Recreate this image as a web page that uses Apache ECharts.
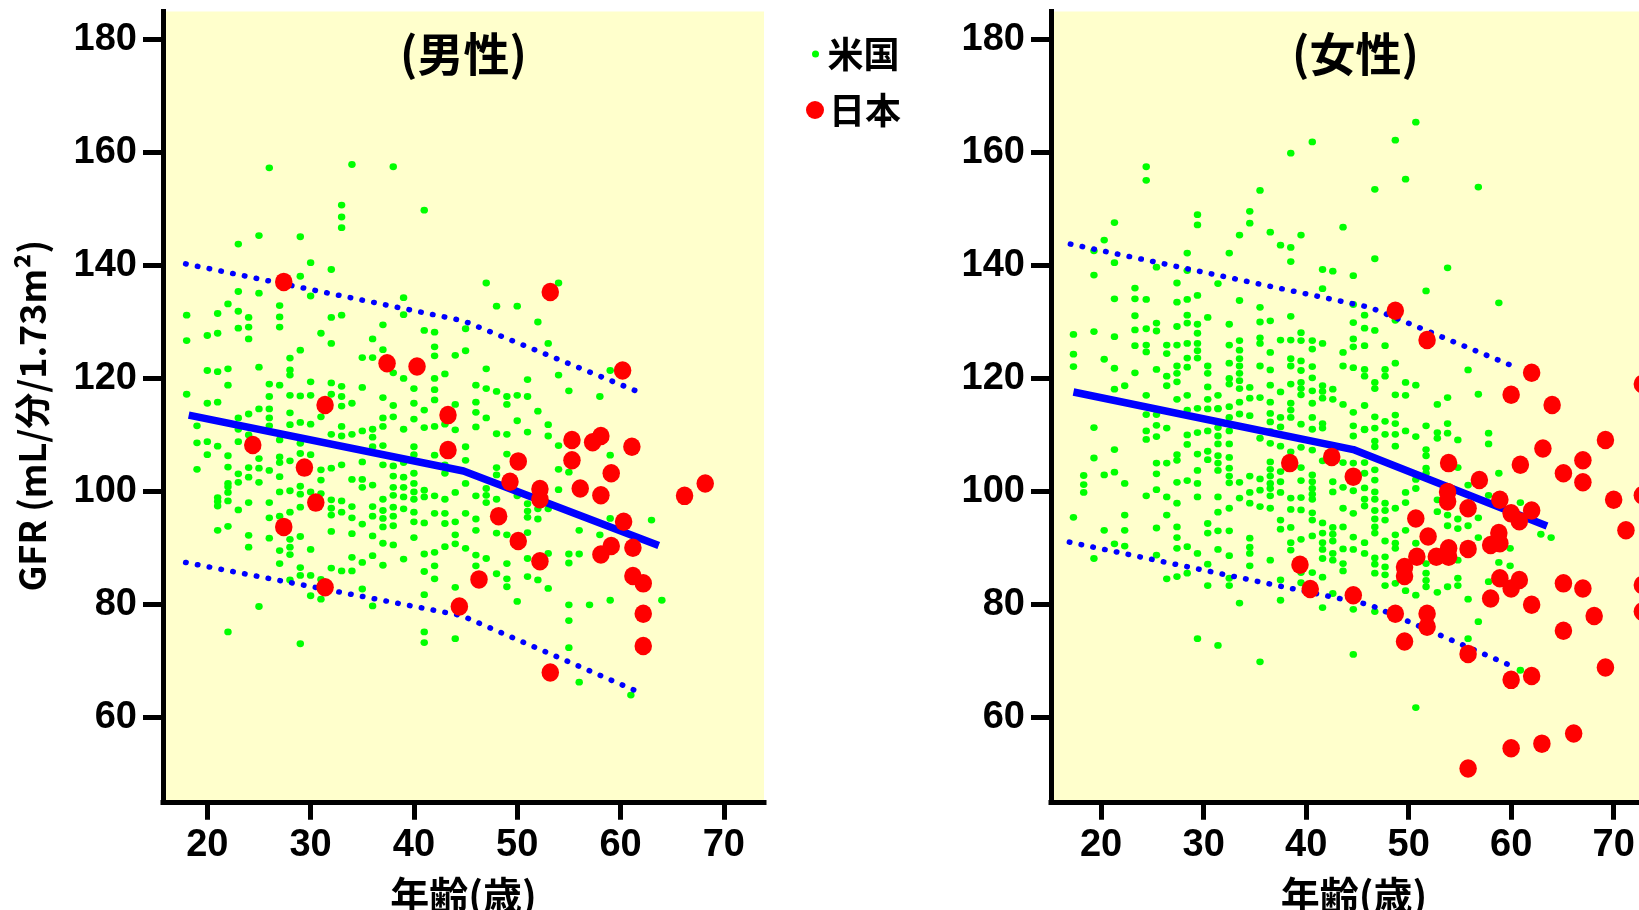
<!DOCTYPE html>
<html>
<head>
<meta charset="utf-8">
<script src="https://cdn.jsdelivr.net/npm/echarts@6.0.0/dist/echarts.min.js"></script>
<style>
html,body{margin:0;padding:0;background:#fff;}
#chart{width:1639px;height:910px;}
</style>
</head>
<body>
<div id="chart"></div>
<script>
// ---- tick labels ----
const xTicks = [20, 30, 40, 50, 60, 70];
const yTicks = [60, 80, 100, 120, 140, 160, 180];

// ---- US (米国) males: [age, [GFR values]] ----
const usMale = [
  [18, [131.2, 126.7, 117.2]],
  [19, [111.6, 108.6, 103.9]],
  [20, [127.6, 121.4, 115.6, 108.8, 106.5]],
  [21, [131.5, 128.0, 121.2, 115.8, 108.0, 98.9, 98.2, 97.4, 93.1]],
  [22, [133.2, 121.7, 118.8, 106.3, 104.3, 101.4, 100.8, 99.8, 98.3, 93.8, 75.1]],
  [23, [143.8, 135.4, 131.9, 128.9, 113.0, 111.0, 108.8, 103.1, 101.6, 96.7]],
  [24, [130.8, 129.1, 127.0, 113.7, 110.0, 104.2, 102.5, 98.0, 92.2, 90.1]],
  [25, [145.3, 135.1, 122.0, 114.6, 105.8, 104.1, 101.6, 79.6]],
  [26, [157.3, 119.0, 116.8, 114.6, 113.0, 111.6, 103.7, 98.0, 95.3, 91.7]],
  [27, [132.9, 130.9, 129.1, 118.8, 109.1, 106.1, 105.1, 102.6, 99.9, 95.6, 89.5, 87.2]],
  [28, [123.6, 121.5, 120.6, 117.0, 113.9, 111.8, 105.4, 100.1, 96.3, 91.5, 90.1, 88.8, 84.3]],
  [29, [145.1, 138.1, 125.0, 116.9, 112.2, 108.5, 106.7, 100.9, 99.5, 97.2, 92.0, 86.5, 85.1, 73.0]],
  [30, [140.5, 134.6, 119.4, 117.0, 111.9, 106.5, 99.9, 89.7, 85.1, 81.5]],
  [31, [128.0, 113.2, 103.8, 102.0, 99.6, 84.4, 80.9]],
  [32, [139.3, 130.8, 126.2, 119.2, 117.2, 110.1, 104.1, 98.5, 97.0, 95.8, 92.9, 86.4]],
  [33, [150.7, 148.6, 146.7, 131.2, 118.6, 116.8, 115.1, 111.5, 109.8, 104.7, 98.3, 96.3, 85.9]],
  [34, [157.9, 115.6, 110.1, 102.1, 97.3, 95.3, 92.5, 88.3, 85.9]],
  [35, [123.7, 118.4, 110.7, 105.2, 102.1, 100.7, 94.2, 87.4, 82.7]],
  [36, [127.0, 123.7, 111.0, 109.6, 107.9, 101.1, 97.3, 95.6, 92.1, 88.6, 79.7]],
  [37, [129.5, 125.1, 116.6, 113.0, 111.5, 108.1, 104.7, 98.6, 96.6, 95.2, 93.7, 90.8, 86.9]],
  [38, [157.5, 121.0, 115.2, 113.2, 104.5, 102.7, 100.7, 99.3, 97.2, 95.6, 93.9, 90.5]],
  [39, [134.3, 131.3, 120.0, 111.0, 105.1, 102.5, 100.7, 99.0, 96.9, 88.0]],
  [40, [118.2, 115.6, 112.8, 107.9, 106.5, 103.2, 101.4, 99.9, 98.6, 96.3, 94.6, 91.8]],
  [41, [149.8, 128.5, 114.4, 111.3, 100.2, 99.0, 94.4, 88.9, 85.8, 81.7, 75.1, 73.2]],
  [42, [128.2, 125.6, 124.0, 120.0, 118.0, 116.2, 111.5, 106.4, 99.2, 96.1, 89.2, 86.8, 84.5]],
  [43, [120.8, 111.9, 104.7, 103.2, 98.6, 96.1, 94.3, 90.2]],
  [44, [124.1, 115.4, 110.9, 99.8, 94.6, 92.3, 90.7, 83.0, 73.9]],
  [45, [128.8, 124.9, 107.9, 105.5, 101.4, 96.1, 89.9]],
  [46, [118.8, 115.8, 114.0, 111.4, 99.2, 95.1, 93.1, 88.7, 86.8]],
  [47, [136.9, 121.7, 118.2, 113.0, 100.5, 99.3, 98.0, 88.1]],
  [48, [132.8, 117.7, 110.2, 104.2, 102.9, 98.6, 92.6, 85.4]],
  [49, [116.8, 115.4, 110.1, 106.6, 92.3, 87.2, 84.5, 83.1]],
  [50, [132.8, 117.0, 112.5, 99.2, 80.5]],
  [51, [119.8, 116.8, 110.5, 97.8, 96.5, 95.4, 92.7, 88.1, 84.9]],
  [52, [130.0, 114.2, 96.9, 95.1, 84.3]],
  [53, [126.2, 111.8, 109.8, 96.9, 89.0, 82.8]],
  [54, [136.9, 120.6, 108.1, 103.9, 100.3]],
  [55, [117.8, 103.4, 88.9, 87.3, 79.9, 77.1, 72.3]],
  [56, [93.1, 88.9, 66.2]],
  [57, [79.9]],
  [58, [116.8, 92.3]],
  [59, [121.4, 106.4, 95.2, 80.7]],
  [61, [63.9]],
  [63, [94.9]],
  [64, [80.7]]
];

// ---- US (米国) females: [age, [GFR values]] ----
const usFemale = [
  [17.3, [127.8, 124.3, 122.1, 95.4]],
  [18.3, [102.8, 101.2, 99.8]],
  [19.3, [142.6, 138.3, 128.3, 111.3, 105.9, 88.1]],
  [20.3, [144.5, 123.4, 102.9, 93.1]],
  [21.3, [147.6, 140.5, 134.1, 127.4, 121.8, 118.1, 107.4, 103.4, 90.7]],
  [22.3, [118.7, 101.4, 95.8, 93.1, 90.3]],
  [23.3, [136.0, 134.1, 131.1, 128.6, 125.8, 121.0]],
  [24.4, [157.5, 155.1, 134.0, 128.8, 125.9, 124.7, 117.0, 113.6, 110.7, 109.2, 99.2]],
  [25.4, [139.7, 129.8, 128.4, 121.6, 113.6, 111.7, 109.7, 105.0, 103.1, 100.3, 93.5, 88.7]],
  [26.4, [125.9, 124.4, 120.4, 118.7, 111.2, 105.0, 99.0, 95.8, 84.5]],
  [27.4, [136.9, 133.5, 129.2, 125.9, 122.2, 120.9, 119.4, 116.3, 106.5, 105.5, 101.6, 97.9, 93.7, 91.8, 89.9, 84.9]],
  [28.4, [142.2, 139.1, 134.0, 131.2, 129.8, 126.2, 123.6, 122.0, 117.0, 114.4, 110.0, 108.3, 101.9, 90.2, 85.5]],
  [29.4, [149.0, 147.2, 134.7, 129.6, 128.0, 126.2, 124.9, 123.6, 114.7, 110.4, 106.6, 103.7, 101.4, 99.0, 89.0, 73.9]],
  [30.4, [130.8, 122.2, 120.9, 118.5, 116.3, 114.6, 110.7, 107.1, 105.6, 94.3, 92.6, 87.1, 83.3]],
  [31.4, [136.8, 117.0, 114.7, 114.6, 111.3, 109.8, 108.4, 106.3, 105.0, 103.7, 99.0, 96.3, 93.0, 89.7, 72.7]],
  [32.5, [142.2, 129.6, 125.9, 122.7, 120.0, 119.0, 115.0, 113.1, 110.7, 108.4, 106.0, 104.1, 102.7, 101.5, 97.0, 93.0, 88.6, 84.6, 83.3]],
  [33.5, [145.4, 133.8, 126.7, 125.0, 123.5, 122.2, 120.9, 119.6, 118.2, 115.8, 113.7, 101.6, 98.8, 80.2]],
  [34.5, [149.6, 147.5, 118.4, 116.5, 113.4, 102.7, 99.8, 97.9, 91.7, 90.1, 89.0, 86.8]],
  [35.5, [153.3, 132.6, 130.0, 127.2, 126.2, 122.2, 116.6, 109.4, 102.2, 100.2, 97.3, 69.8]],
  [36.5, [145.9, 130.2, 124.6, 121.5, 118.8, 115.8, 113.8, 112.3, 110.6, 108.5, 105.2, 103.9, 102.7, 101.4, 100.5, 99.2, 97.0, 87.8]],
  [37.5, [143.6, 126.8, 117.6, 113.1, 111.4, 108.0, 103.5, 101.7, 99.8, 94.9, 93.3, 84.3, 80.7]],
  [38.5, [159.9, 143.2, 140.7, 131.0, 126.8, 123.5, 122.2, 119.0, 115.6, 114.4, 113.1, 107.0, 98.8, 96.8, 93.6, 90.9, 89.6]],
  [39.5, [145.4, 128.1, 126.7, 123.1, 121.4, 119.3, 118.2, 117.1, 111.9, 107.8, 104.2, 101.9, 98.9, 96.7, 91.5, 85.6, 83.8]],
  [40.6, [161.9, 126.7, 125.2, 122.1, 120.1, 117.8, 115.6, 113.1, 111.0, 107.3, 102.9, 101.7, 100.5, 99.5, 98.6, 96.2, 94.9, 92.1, 85.6]],
  [41.6, [139.3, 135.9, 126.2, 118.7, 117.7, 116.5, 112.0, 111.2, 105.4, 94.4, 92.6, 90.9, 89.7, 88.1, 84.8, 79.4]],
  [42.6, [139.0, 118.1, 116.3, 101.7, 99.9, 93.6, 92.4, 91.2, 89.0, 87.8, 81.9]],
  [43.6, [146.8, 124.6, 122.2, 115.4, 105.1, 100.7, 97.0, 93.7, 89.8, 87.2, 85.9]],
  [44.6, [138.2, 133.1, 129.9, 127.0, 125.6, 121.9, 114.0, 111.6, 109.8, 105.0, 100.1, 96.1, 91.9, 89.7, 79.1, 71.1]],
  [45.7, [131.2, 128.9, 125.8, 121.6, 120.4, 115.2, 111.0, 110.9, 105.1, 103.2, 100.6, 98.6, 97.4, 90.9, 89.0]],
  [46.7, [153.5, 141.2, 128.5, 119.3, 118.2, 113.2, 111.2, 108.9, 107.9, 103.8, 102.0, 99.9, 98.6, 96.6, 95.1, 93.7, 92.6, 88.2, 87.1, 85.5, 78.7]],
  [47.7, [125.8, 121.6, 120.4, 112.4, 110.1, 97.9, 96.6, 94.9, 91.2, 88.4, 86.6, 85.2, 83.3]],
  [48.7, [162.2, 130.3, 122.7, 117.1, 113.5, 112.0, 110.1, 108.0, 97.0, 92.3, 90.8, 89.9, 83.7]],
  [49.7, [155.3, 119.3, 117.0, 110.7, 99.8, 98.0, 93.1, 82.4]],
  [50.7, [165.4, 118.8, 109.7, 102.1, 100.5, 90.8, 89.3, 81.6, 61.7]],
  [51.7, [135.5, 111.6, 107.4, 106.3, 104.1, 103.2, 87.2, 85.5, 84.2, 83.1]],
  [52.8, [115.4, 110.4, 109.4, 98.5, 96.4, 82.1]],
  [53.8, [139.6, 116.6, 112.0, 110.3, 95.8, 93.9, 83.1]],
  [54.8, [109.1, 104.2, 95.1, 93.4, 87.8, 84.6, 83.3]],
  [55.8, [121.5, 101.1, 93.9, 80.9, 73.9]],
  [56.8, [153.9, 117.2, 95.3, 91.8, 76.9]],
  [57.8, [110.3, 108.4, 99.3, 84.0]],
  [58.8, [133.4, 103.2, 87.4]],
  [59.9, [89.9, 86.8]],
  [60.9, [98.0, 68.3]],
  [62.9, [92.4]],
  [63.9, [91.8]]
];

// ---- Japan (日本) males: [age, GFR] ----
const jpMale = [
  [27.4,137.1],[37.4,122.7],[40.3,122.1],[31.4,115.3],[43.3,113.5],[24.4,108.2],[29.4,104.2],
  [30.5,98.0],[27.4,93.7],[31.4,83.0],[43.3,107.3],[44.4,79.6],[53.2,135.3],[60.2,121.4],
  [55.3,109.1],[57.3,108.7],[58.1,109.8],[61.1,107.9],[50.1,105.3],[55.3,105.5],[59.1,103.2],
  [49.3,101.7],[52.2,100.4],[52.2,98.6],[56.1,100.5],[58.1,99.3],[66.2,99.2],[68.2,101.4],
  [48.2,95.6],[60.3,94.6],[50.1,91.2],[59.1,90.3],[58.1,88.8],[61.2,90.0],[52.2,87.6],
  [46.3,84.4],[61.2,85.0],[62.2,83.7],[62.2,78.3],[62.2,72.6],[53.2,67.9]
];

// ---- Japan (日本) females: [age, GFR] ----
const jpFemale = [
  [48.7,132.0],[51.8,126.8],[62.0,121.0],[60.0,117.1],[64.0,115.3],[72.8,119.0],
  [38.4,105.0],[42.5,106.1],[39.4,87.0],[40.4,82.7],
  [44.6,102.6],[44.6,81.6],[53.9,105.0],[56.9,102.0],[53.8,99.9],[53.8,98.2],[55.8,97.0],
  [50.7,95.2],[51.9,92.0],[58.9,98.5],[60.0,96.1],[60.8,94.7],[62.0,96.6],[63.1,107.6],
  [60.9,104.7],[65.1,103.2],[67.0,105.5],[67.0,101.6],[69.2,109.1],[70.0,98.5],[71.2,93.1],
  [72.8,99.3],[58.8,92.6],[58.0,90.5],[58.9,90.8],[55.8,89.8],[53.9,89.9],[53.9,88.4],
  [52.7,88.4],[50.8,88.4],[49.6,86.6],[49.6,85.0],[48.7,78.3],[51.8,78.3],[51.8,76.0],
  [49.6,73.4],[55.8,71.2],[58.0,81.0],[58.9,84.6],[60.8,84.3],[60.0,82.8],[62.0,79.9],
  [65.1,83.7],[67.0,82.8],[68.1,77.9],[65.1,75.3],[72.8,83.4],[72.8,78.7],[60.0,66.6],
  [62.0,67.3],[69.2,68.8],[66.1,57.1],[63.0,55.3],[60.0,54.5],[55.8,50.9]
];

// ---- US reference lines: [age, GFR] ----
const upperMale = [[17.9,140.3],[44.8,130.2],[62.3,117.2]];
const fitMale   = [[18.2,113.5],[44.8,103.6],[63.7,90.4]];
const lowerMale = [[17.9,87.4],[44.6,78.0],[62.2,64.1]];
const upperFemale = [[17.0,143.8],[46.2,132.6],[60.7,121.8]];
const fitFemale   = [[17.3,117.6],[44.6,107.4],[63.5,93.85]];
const lowerFemale = [[16.9,91.0],[46.2,79.9],[60.5,68.7]];

// ---- texts ----
const panelTitles = ['(男性)', '(女性)'];
const xName = '年齢(歳)';
const yName = 'GFR (mL/分/1.73m²)';
const seriesNames = ['米国', '日本'];

// ---------------------------------------------------------------
const CJK = '"Noto Sans CJK JP", "Noto Sans", sans-serif';
const LAT = '"Liberation Sans", Arial, sans-serif';
const GREEN = '#00FF00', RED = '#FF0000', BLUE = '#0000FF', BG = '#FFFFCC';

function flatten(cols) {
  const out = [];
  cols.forEach(function (c) { c[1].forEach(function (v) { out.push([c[0], v]); }); });
  return out;
}

function xAxis(gi, min, max) {
  return {
    type: 'value', gridIndex: gi, min: min, max: max,
    name: xName, nameLocation: 'middle', nameGap: 74,
    nameTextStyle: { fontFamily: CJK, fontSize: 39, fontWeight: 'bold', color: '#000' },
    axisLine: { show: true, onZero: false, lineStyle: { color: '#000', width: 5, cap: 'square' } },
    axisTick: { show: true, inside: false, length: 18, customValues: xTicks, lineStyle: { color: '#000', width: 5 } },
    axisLabel: { show: true, customValues: xTicks, margin: 25, fontFamily: LAT, fontSize: 38, fontWeight: 'bold', color: '#000' },
    splitLine: { show: false }
  };
}
function yAxis(gi, withName) {
  return {
    type: 'value', gridIndex: gi, min: 45, max: 185,
    name: withName ? yName : '', nameLocation: 'middle', nameGap: 113, nameRotate: 90,
    nameTextStyle: { fontFamily: CJK, fontSize: 36, fontWeight: 'bold', color: '#000', padding: [0, 18, 0, 0] },
    axisLine: { show: true, onZero: false, lineStyle: { color: '#000', width: 5, cap: 'square' } },
    axisTick: { show: true, inside: false, length: 20, customValues: yTicks, lineStyle: { color: '#000', width: 5 } },
    axisLabel: { show: true, customValues: yTicks, margin: 26, fontFamily: LAT, fontSize: 38, fontWeight: 'bold', color: '#000' },
    splitLine: { show: false }
  };
}
function scatter(name, gi, data, size, color, z) {
  return {
    type: 'scatter', name: name, xAxisIndex: gi, yAxisIndex: gi, data: data,
    symbol: 'circle', symbolSize: size, itemStyle: { color: color, opacity: 1 },
    z: z, silent: true, animation: false
  };
}
function line(gi, data, dotted) {
  return {
    type: 'line', xAxisIndex: gi, yAxisIndex: gi, data: data,
    symbol: 'none', showSymbol: false, silent: true, z: 3, animation: false,
    lineStyle: dotted
      ? { color: BLUE, width: 5.5, type: [0.5, 11.5], cap: 'round' }
      : { color: BLUE, width: 7.5, type: 'solid', cap: 'butt', join: 'round' }
  };
}

const chart = echarts.init(document.getElementById('chart'), null, { renderer: 'canvas' });
chart.setOption({
  animation: false,
  backgroundColor: '#fff',
  title: [
    { text: panelTitles[0], left: 400, top: 31, padding: 0,
      textStyle: { fontFamily: CJK, fontSize: 46, fontWeight: 'bold', color: '#000' } },
    { text: panelTitles[1], left: 1292, top: 31, padding: 0,
      textStyle: { fontFamily: CJK, fontSize: 46, fontWeight: 'bold', color: '#000' } }
  ],
  legend: [
    { data: [{ name: seriesNames[0], icon: 'circle' }], left: 812, top: 36, padding: 0,
      itemWidth: 14, itemHeight: 7, selectedMode: false,
      textStyle: { fontFamily: CJK, fontSize: 36, fontWeight: 'bold', color: '#000' } },
    { data: [{ name: seriesNames[1], icon: 'circle' }], left: 806, top: 92, padding: 0,
      itemWidth: 18, itemHeight: 18, selectedMode: false,
      textStyle: { fontFamily: CJK, fontSize: 36, fontWeight: 'bold', color: '#000' } }
  ],
  grid: [
    { left: 163, top: 11.5, width: 601, height: 790.3, show: true, backgroundColor: BG, borderWidth: 0,
      containLabel: false, outerBoundsMode: 'none' },
    { left: 1051, top: 11.5, width: 606, height: 790.3, show: true, backgroundColor: BG, borderWidth: 0,
      containLabel: false, outerBoundsMode: 'none' }
  ],
  xAxis: [xAxis(0, 15.71, 73.89), xAxis(1, 15.11, 74.23)],
  yAxis: [yAxis(0, true), yAxis(1, false)],
  series: [
    scatter(seriesNames[0], 0, flatten(usMale), [7.5, 6.8], GREEN, 2),
    line(0, upperMale, true),
    line(0, fitMale, false),
    line(0, lowerMale, true),
    scatter(seriesNames[1], 0, jpMale, [17.5, 18.5], RED, 4),
    scatter(seriesNames[0], 1, flatten(usFemale), [7.5, 6.8], GREEN, 2),
    line(1, upperFemale, true),
    line(1, fitFemale, false),
    line(1, lowerFemale, true),
    scatter(seriesNames[1], 1, jpFemale, [17.5, 18.5], RED, 4)
  ]
});
</script>
</body>
</html>
